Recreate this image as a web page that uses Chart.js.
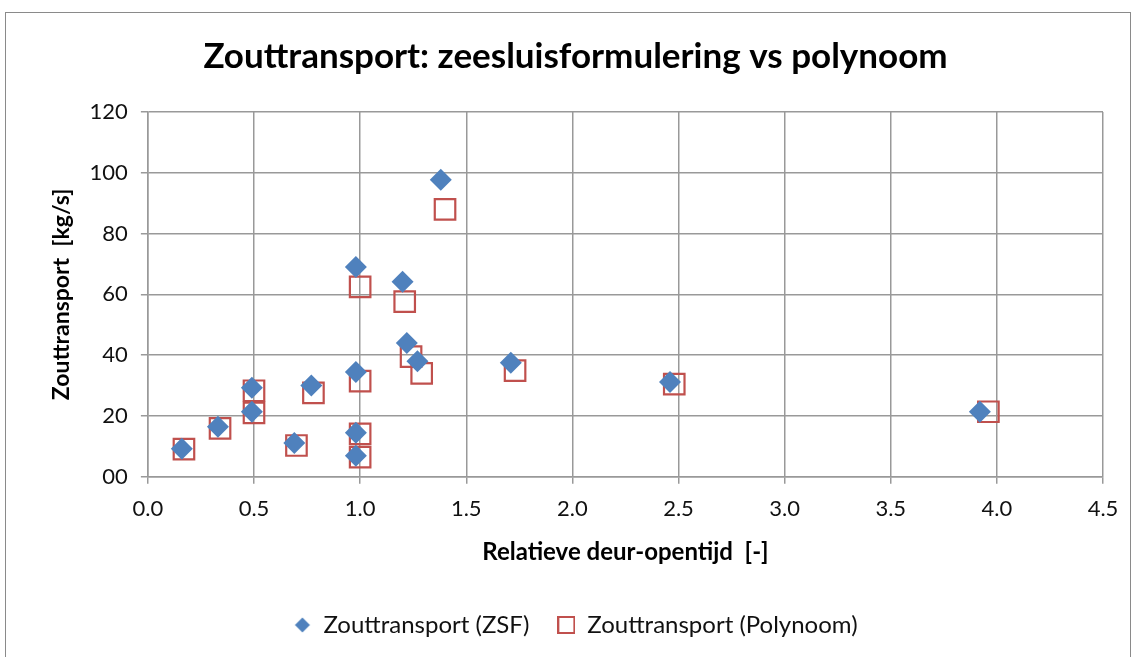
<!DOCTYPE html>
<html>
<head>
<meta charset="utf-8">
<script src="https://cdn.jsdelivr.net/npm/chart.js@4.4.1/dist/chart.umd.min.js"></script>
<style>
  html, body { margin:0; padding:0; background:#fff; }
  #wrap { position:relative; width:1135px; height:657px; }
  #frame { position:absolute; left:5px; top:12px; width:1126px; height:650px; border:1.5px solid #8a8a8a; box-sizing:border-box; pointer-events:none; }
  #my_canvas { position:absolute; left:0; top:0; }
</style>
</head>
<body>
<div id="wrap">
  <canvas id="my_canvas" width="1135" height="657"></canvas>
  <div id="frame"></div>
</div>
<script>
// values
const zsf_x = [1.38, 0.98, 1.20, 1.22, 1.27, 0.98, 0.77, 0.49, 0.49, 0.33, 0.16, 0.69, 0.98, 0.98, 1.71, 2.46, 3.92];
const zsf_y = [97.7, 69.0, 64.2, 44.0, 38.0, 34.5, 30.0, 29.3, 21.4, 16.5, 9.2, 11.1, 14.5, 6.9, 37.5, 31.2, 21.4];

const poly_x = [1.40, 1.00, 1.21, 1.24, 1.29, 1.00, 0.78, 0.50, 0.50, 0.34, 0.17, 0.70, 1.00, 1.00, 1.73, 2.48, 3.96];
const poly_y = [88.0, 62.5, 57.6, 39.5, 34.0, 31.5, 27.6, 28.3, 21.0, 15.9, 9.1, 10.3, 14.1, 6.5, 34.9, 30.5, 21.4];

const y_tick_labels = ['00', '20', '40', '60', '80', '100', '120'];
const x_tick_labels = ['0.0', '0.5', '1.0', '1.5', '2.0', '2.5', '3.0', '3.5', '4.0', '4.5'];

const the_title = 'Zouttransport: zeesluisformulering vs polynoom';
const x_title = 'Relatieve deur-opentijd  [-]';
const y_title = 'Zouttransport  [kg/s]';
const series_names = ['Zouttransport (ZSF)', 'Zouttransport (Polynoom)'];

function toPoints(xs, ys){
    return xs.map((x, i) => ({x: x, y: ys[i]}));
}

const font_family = 'Lato, "Open Sans", sans-serif';
const grid_color = '#999999';
const blue = '#4f81bd';
const red = '#c0504d';

// small legend icons (diamond and hollow square)
function legendIcon(kind){
    const c = document.createElement('canvas');
    c.width = 18;
    c.height = 18;
    const g = c.getContext('2d');
    if(kind === 'diamond'){
        g.fillStyle = blue;
        g.beginPath();
        g.moveTo(9, 1.5);
        g.lineTo(16.5, 9);
        g.lineTo(9, 16.5);
        g.lineTo(1.5, 9);
        g.closePath();
        g.fill();
    } else {
        g.strokeStyle = red;
        g.lineWidth = 2;
        g.strokeRect(1, 1, 16, 16);
    }
    return c;
}
const legend_icons = [legendIcon('diamond'), legendIcon('square')];

const ctx = document.getElementById('my_canvas').getContext('2d');

const the_chart = new Chart(ctx, {
    type: 'scatter',
    data: {
        datasets: [{
            label: series_names[0],
            data: toPoints(zsf_x, zsf_y),
            pointStyle: 'rectRot',
            pointRadius: 11,
            pointHoverRadius: 11,
            backgroundColor: blue,
            borderColor: blue,
            borderWidth: 0
        }, {
            label: series_names[1],
            data: toPoints(poly_x, poly_y),
            pointStyle: 'rect',
            pointRadius: 14.5,
            pointHoverRadius: 14.5,
            backgroundColor: 'rgba(0,0,0,0)',
            borderColor: red,
            borderWidth: 2.2
        }]
    },
    options: {
        responsive: false,
        animation: false,
        layout: { padding: { left: 48, right: 32, top: 20, bottom: 10 } },
        plugins: {
            title: {
                display: true,
                text: the_title,
                color: '#000',
                font: { family: font_family, size: 35, weight: 'bold' },
                padding: { top: 16, bottom: 34 }
            },
            legend: {
                position: 'bottom',
                labels: {
                    usePointStyle: true,
                    boxWidth: 18,
                    boxHeight: 18,
                    color: '#111',
                    padding: 28,
                    font: { family: font_family, size: 24 },
                    generateLabels: (chart) => {
                        const items = Chart.defaults.plugins.legend.labels.generateLabels(chart);
                        items.forEach((it, i) => { it.pointStyle = legend_icons[i]; });
                        return items;
                    }
                }
            },
            tooltip: { enabled: false }
        },
        scales: {
            x: {
                type: 'linear',
                min: 0,
                max: 4.5,
                ticks: {
                    stepSize: 0.5,
                    color: '#111',
                    padding: 12,
                    font: { family: font_family, size: 22 },
                    callback: (v, i) => x_tick_labels[i]
                },
                grid: { color: grid_color, lineWidth: 1.5, drawTicks: true, tickLength: 7 },
                border: { color: grid_color, width: 1.5 },
                title: {
                    display: true,
                    text: x_title,
                    color: '#000',
                    font: { family: font_family, size: 24, weight: 'bold' },
                    padding: { top: 4, bottom: 18 }
                }
            },
            y: {
                min: 0,
                max: 120,
                ticks: {
                    stepSize: 20,
                    color: '#111',
                    padding: 13,
                    font: { family: font_family, size: 22 },
                    callback: (v, i) => y_tick_labels[i]
                },
                grid: { color: grid_color, lineWidth: 1.5, drawTicks: true, tickLength: 7 },
                border: { color: grid_color, width: 1.5 },
                title: {
                    display: true,
                    text: y_title,
                    color: '#000',
                    font: { family: font_family, size: 23, weight: 'bold' },
                    padding: { top: 0, bottom: 1 }
                }
            }
        }
    }
});
</script>
</body>
</html>
